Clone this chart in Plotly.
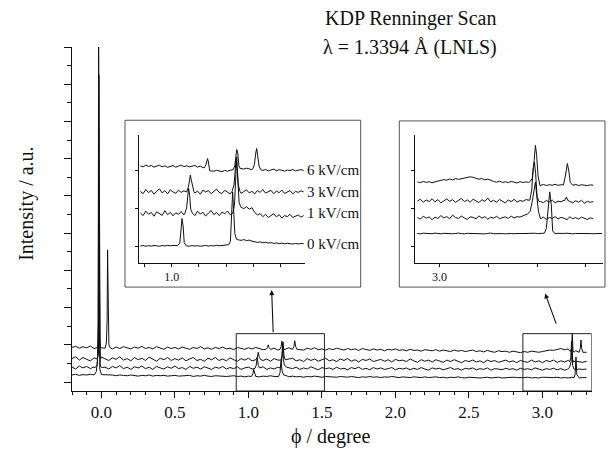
import plotly.graph_objects as go

FONT = "Liberation Serif"

# ---------------- main scan (phi in degree, intensity a.u.) ----------------
main_x0 = -0.2
main_dx = 0.025
main_6kv = [1.93, 1.96, 1.91, 1.95, 1.92, 1.97, 1.90, 1.94, 1.92, 1.95,
            1.91, 1.89, 1.94, 1.90, 1.95, 1.92, 1.89, 1.94, 1.91, 1.96,
            1.90, 1.93, 1.89, 1.95, 1.91, 1.88, 1.94, 1.90, 1.93, 1.89,
            1.94, 1.91, 1.88, 1.93, 1.90, 1.95, 1.89, 1.92, 1.88, 1.93,
            1.90, 1.94, 1.89, 1.91, 1.87, 1.93, 1.90, 1.88, 1.92, 1.89,
            1.93, 1.90, 1.87, 1.92, 1.89, 1.91, 1.86, 1.90, 1.88, 1.92,
            1.87, 1.90, 1.88, 1.86, 1.91, 1.88, 1.92, 1.87, 1.89, 1.86,
            1.90, 1.87, 1.91, 1.88, 1.86, 1.90, 1.87, 1.89, 1.85, 1.90,
            1.87, 1.85, 1.89, 1.86, 1.88, 1.84, 1.88, 1.86, 1.89, 1.85,
            1.87, 1.84, 1.88, 1.85, 1.86, 1.83, 1.87, 1.85, 1.84, 1.87,
            1.83, 1.86, 1.84, 1.82, 1.86, 1.83, 1.85, 1.82, 1.84, 1.86,
            1.82, 1.84, 1.81, 1.85, 1.82, 1.80, 1.84, 1.82, 1.83, 1.80,
            1.83, 1.81, 1.79, 1.82, 1.80, 1.83, 1.81, 1.80, 1.82, 1.84,
            1.86, 1.85, 1.88, 1.90, 1.87, 1.89, 1.86, 1.84, 1.83, 1.81,
            1.80]
main_3kv = [1.63, 1.68, 1.59, 1.66, 1.61, 1.57, 1.65, 1.60, 1.67, 1.62,
            1.58, 1.65, 1.61, 1.68, 1.59, 1.63, 1.57, 1.66, 1.60, 1.64,
            1.58, 1.67, 1.61, 1.56, 1.64, 1.60, 1.66, 1.58, 1.63, 1.59,
            1.65, 1.57, 1.62, 1.66, 1.58, 1.61, 1.56, 1.64, 1.60, 1.66,
            1.58, 1.62, 1.57, 1.65, 1.60, 1.56, 1.63, 1.59, 1.64, 1.57,
            1.61, 1.65, 1.58, 1.62, 1.56, 1.63, 1.59, 1.65, 1.57, 1.61,
            1.64, 1.57, 1.60, 1.55, 1.63, 1.58, 1.62, 1.56, 1.61, 1.64,
            1.57, 1.60, 1.55, 1.62, 1.58, 1.63, 1.56, 1.60, 1.54, 1.61,
            1.58, 1.62, 1.55, 1.59, 1.61, 1.56, 1.60, 1.54, 1.61, 1.57,
            1.59, 1.55, 1.62, 1.57, 1.53, 1.60, 1.56, 1.59, 1.54, 1.60,
            1.57, 1.53, 1.59, 1.55, 1.60, 1.56, 1.52, 1.58, 1.55, 1.59,
            1.54, 1.57, 1.52, 1.59, 1.55, 1.58, 1.53, 1.56, 1.59, 1.54,
            1.57, 1.52, 1.58, 1.55, 1.53, 1.59, 1.54, 1.57, 1.52, 1.58,
            1.55, 1.59, 1.53, 1.57, 1.54, 1.58, 1.52, 1.56, 1.55, 1.53,
            1.56]
main_1kv = [1.40, 1.35, 1.43, 1.38, 1.42, 1.36, 1.41, 1.44, 1.37, 1.40,
            1.35, 1.42, 1.38, 1.44, 1.36, 1.40, 1.34, 1.41, 1.38, 1.43,
            1.36, 1.40, 1.34, 1.42, 1.38, 1.35, 1.41, 1.37, 1.43, 1.36,
            1.39, 1.34, 1.42, 1.37, 1.40, 1.35, 1.41, 1.38, 1.34, 1.40,
            1.37, 1.42, 1.35, 1.39, 1.36, 1.41, 1.34, 1.38, 1.40, 1.35,
            1.39, 1.36, 1.41, 1.34, 1.38, 1.35, 1.40, 1.37, 1.33, 1.39,
            1.36, 1.40, 1.34, 1.38, 1.35, 1.41, 1.36, 1.33, 1.39, 1.36,
            1.38, 1.34, 1.40, 1.35, 1.37, 1.33, 1.39, 1.36, 1.40, 1.34,
            1.37, 1.33, 1.39, 1.35, 1.38, 1.34, 1.36, 1.39, 1.33, 1.37,
            1.35, 1.38, 1.33, 1.37, 1.34, 1.39, 1.35, 1.32, 1.38, 1.35,
            1.37, 1.33, 1.36, 1.39, 1.34, 1.36, 1.32, 1.37, 1.35, 1.38,
            1.33, 1.36, 1.34, 1.38, 1.32, 1.36, 1.35, 1.33, 1.37, 1.34,
            1.36, 1.32, 1.37, 1.34, 1.36, 1.33, 1.38, 1.34, 1.32, 1.36,
            1.34, 1.37, 1.33, 1.36, 1.32, 1.35, 1.37, 1.33, 1.35, 1.34,
            1.35]
main_0kv = [1.19, 1.21, 1.18, 1.20, 1.19, 1.21, 1.18, 1.20, 1.19, 1.20,
            1.18, 1.19, 1.17, 1.19, 1.18, 1.17, 1.19, 1.18, 1.16, 1.18,
            1.17, 1.19, 1.16, 1.18, 1.17, 1.18, 1.16, 1.17, 1.18, 1.16,
            1.17, 1.16, 1.18, 1.15, 1.17, 1.16, 1.18, 1.16, 1.15, 1.17,
            1.16, 1.17, 1.15, 1.16, 1.17, 1.15, 1.16, 1.14, 1.16, 1.15,
            1.16, 1.14, 1.16, 1.15, 1.17, 1.15, 1.14, 1.16, 1.15, 1.14,
            1.16, 1.14, 1.15, 1.13, 1.15, 1.14, 1.16, 1.14, 1.13, 1.15,
            1.14, 1.15, 1.13, 1.15, 1.14, 1.13, 1.15, 1.14, 1.12, 1.14,
            1.13, 1.15, 1.13, 1.14, 1.12, 1.14, 1.13, 1.15, 1.13, 1.12,
            1.14, 1.13, 1.12, 1.14, 1.13, 1.12, 1.14, 1.12, 1.13, 1.14,
            1.12, 1.13, 1.11, 1.13, 1.12, 1.14, 1.12, 1.11, 1.13, 1.12,
            1.13, 1.11, 1.12, 1.13, 1.11, 1.12, 1.13, 1.11, 1.12, 1.11,
            1.13, 1.12, 1.11, 1.12, 1.13, 1.11, 1.12, 1.11, 1.13, 1.12,
            1.11, 1.12, 1.13, 1.11, 1.12, 1.11, 1.13, 1.12, 1.11, 1.12,
            1.12]

main_peaks_0kv = [
    [(-0.05, 1.19), (-0.035, 1.28), (-0.027, 1.55), (-0.022, 2.6), (-0.019, 10.6), (-0.015, 2.2), (-0.011, 1.35), (0.0, 1.20)],
    [(1.02, 1.15), (1.03, 1.22), (1.036, 1.34), (1.042, 1.22), (1.05, 1.15)],
    [(1.205, 1.15), (1.215, 1.25), (1.222, 1.58), (1.229, 1.30), (1.24, 1.19), (1.26, 1.17)],
    [(3.215, 1.12), (3.222, 1.20), (3.228, 1.67), (3.234, 1.20), (3.245, 1.12)],
]
main_peaks_1kv = [
    [(-0.045, 1.38), (-0.03, 1.45), (-0.022, 1.8), (-0.017, 9.25), (-0.013, 1.9), (-0.008, 1.42), (0.005, 1.39)],
    [(1.045, 1.37), (1.053, 1.45), (1.06, 1.66), (1.067, 1.45), (1.075, 1.38)],
    [(1.215, 1.38), (1.225, 1.50), (1.232, 2.02), (1.238, 1.60), (1.245, 1.45), (1.26, 1.40)],
    [(3.17, 1.34), (3.185, 1.40), (3.195, 1.55), (3.20, 2.05), (3.205, 1.45), (3.215, 1.35)],
]
main_peaks_3kv = [
    [(-0.03, 1.62), (-0.02, 1.75), (-0.015, 5.8), (-0.011, 1.8), (-0.005, 1.63)],
    [(1.05, 1.60), (1.06, 1.66), (1.067, 1.80), (1.074, 1.66), (1.085, 1.60)],
    [(1.22, 1.59), (1.23, 1.70), (1.236, 2.07), (1.242, 1.70), (1.25, 1.60)],
    [(3.185, 1.55), (3.193, 1.65), (3.198, 2.10), (3.204, 1.62), (3.212, 1.54)],
]
main_peaks_6kv = [
    [(-0.025, 1.93), (-0.018, 2.2), (-0.015, 3.0), (-0.012, 2.1), (-0.006, 1.92)],
    [(0.025, 1.91), (0.034, 2.05), (0.039, 2.7), (0.042, 4.55), (0.046, 2.6), (0.051, 2.0), (0.06, 1.92)],
    [(1.12, 1.88), (1.13, 1.93), (1.135, 2.00), (1.14, 1.93), (1.15, 1.88)],
    [(1.215, 1.88), (1.222, 1.95), (1.228, 2.10), (1.234, 1.95), (1.242, 1.88)],
    [(1.30, 1.88), (1.31, 1.96), (1.315, 2.11), (1.321, 1.96), (1.33, 1.88)],
    [(3.19, 1.82), (3.198, 1.90), (3.203, 2.31), (3.208, 1.85), (3.215, 1.80)],
    [(3.25, 1.80), (3.257, 1.90), (3.262, 2.13), (3.267, 1.90), (3.275, 1.80)],
]

# ---------------- inset 1 (phi 0.88 - 1.49) ----------------
in1_x0 = 0.885
in1_dx = 0.01
in1_6kv = [7.60, 7.52, 7.66, 7.55, 7.62, 7.50, 7.58, 7.64, 7.53, 7.60, 7.48, 7.56, 7.62, 7.50, 7.58,
           7.66, 7.54, 7.60, 7.52, 7.57, 7.63, 7.50, 7.58, 7.46, 7.40, 7.30, 7.22, 7.18, 7.25, 7.20,
           7.15, 7.24, 7.18, 7.26, 7.30, 7.35, 7.32, 7.40, 7.34, 7.42, 7.36, 7.30, 7.38, 7.35, 7.30,
           7.24, 7.32, 7.20, 7.28, 7.34, 7.22, 7.30, 7.25, 7.18, 7.28, 7.22, 7.32, 7.20, 7.26, 7.30, 7.24]
in1_3kv = [5.60, 5.42, 5.75, 5.50, 5.68, 5.38, 5.62, 5.80, 5.48, 5.66, 5.40, 5.72, 5.55, 5.45, 5.70,
           5.52, 5.64, 5.40, 5.58, 5.75, 5.47, 5.62, 5.38, 5.70, 5.55, 5.66, 5.42, 5.60, 5.78, 5.50,
           5.44, 5.68, 5.52, 5.40, 5.62, 5.56, 5.70, 5.45, 5.58, 5.72, 5.48, 5.60, 5.40, 5.66, 5.52,
           5.74, 5.46, 5.58, 5.68, 5.42, 5.62, 5.50, 5.70, 5.44, 5.58, 5.66, 5.40, 5.60, 5.52, 5.64, 5.56]
in1_1kv = [3.90, 3.70, 4.05, 3.80, 3.95, 3.65, 4.00, 3.85, 3.72, 4.08, 3.78, 3.95, 3.68, 3.92, 3.80,
           4.02, 3.75, 4.00, 4.00, 3.85, 3.70, 4.05, 3.82, 3.96, 3.66, 3.90, 4.10, 3.78, 3.94, 3.70,
           3.98, 3.84, 4.06, 3.76, 3.92, 4.00, 4.40, 4.35, 4.25, 4.40, 4.20, 4.32, 3.95, 3.75, 3.85,
           3.62, 3.80, 3.55, 3.72, 3.85, 3.60, 3.78, 3.50, 3.70, 3.62, 3.80, 3.55, 3.68, 3.75, 3.58, 3.70]
in1_0kv = [1.32, 1.35, 1.30, 1.34, 1.31, 1.36, 1.33, 1.30, 1.35, 1.32, 1.37, 1.33, 1.36, 1.34, 1.38,
           1.35, 1.33, 1.33, 1.30, 1.35, 1.31, 1.34, 1.30, 1.33, 1.36, 1.31, 1.35, 1.32, 1.37, 1.33,
           1.36, 1.40, 1.42, 1.50, 1.60, 1.80, 1.80, 1.76, 1.82, 1.74, 1.78, 1.70, 1.66, 1.60, 1.64,
           1.57, 1.61, 1.55, 1.58, 1.52, 1.56, 1.50, 1.54, 1.49, 1.53, 1.50, 1.47, 1.52, 1.48, 1.51, 1.50]

in1_peaks_6kv = [
    [(1.12, 7.45), (1.126, 7.7), (1.130, 8.1), (1.132, 8.17), (1.135, 7.9), (1.140, 7.2), (1.146, 7.2)],
    [(1.226, 7.3), (1.232, 7.6), (1.236, 8.5), (1.239, 8.88), (1.243, 8.6), (1.247, 7.6), (1.253, 7.35)],
    [(1.298, 7.35), (1.304, 7.7), (1.309, 8.6), (1.3125, 8.96), (1.316, 8.4), (1.321, 7.6), (1.327, 7.3)],
]
in1_peaks_3kv = [
    [(1.055, 5.55), (1.062, 6.0), (1.066, 6.6), (1.0686, 6.87), (1.072, 6.5), (1.077, 5.9), (1.082, 5.55)],
    [(1.222, 5.6), (1.229, 6.1), (1.234, 7.4), (1.2365, 8.1), (1.240, 7.6), (1.245, 6.1), (1.251, 5.6)],
]
in1_peaks_1kv = [
    [(1.048, 3.85), (1.055, 4.3), (1.059, 5.2), (1.0625, 5.82), (1.066, 5.3), (1.070, 4.2), (1.076, 3.9)],
    [(1.225, 3.9), (1.231, 4.6), (1.236, 7.0), (1.239, 8.3), (1.243, 6.5), (1.248, 4.7), (1.255, 4.35)],
]
in1_peaks_0kv = [
    [(1.022, 1.35), (1.030, 1.55), (1.034, 2.9), (1.038, 3.47), (1.042, 2.9), (1.046, 1.6), (1.052, 1.36)],
    [(1.21, 1.42), (1.216, 1.7), (1.220, 3.6), (1.224, 5.56), (1.228, 4.0), (1.232, 2.3), (1.238, 1.85), (1.242, 1.80)],
]
in1_labels = ["6 kV/cm", "3 kV/cm", "1 kV/cm", "0 kV/cm"]
in1_label_y = [7.26, 5.56, 3.92, 1.51]

# ---------------- inset 2 (phi 2.95 - 3.335) ----------------
in2_x0 = 2.955
in2_dx = 0.006
in2_6kv = [6.34, 6.28, 6.38, 6.30, 6.36, 6.27, 6.35, 6.40, 6.45, 6.52, 6.48, 6.56, 6.50, 6.60, 6.54,
           6.58, 6.62, 6.68, 6.74, 6.70, 6.62, 6.55, 6.60, 6.50, 6.56, 6.45, 6.38, 6.32, 6.40, 6.30,
           6.36, 6.28, 6.38, 6.32, 6.26, 6.36, 6.30, 6.34, 6.30, 6.30, 6.30, 6.30, 6.10, 6.14, 6.06,
           6.12, 6.08, 6.15, 6.07, 6.12, 6.10, 6.10, 6.10, 6.08, 6.14, 6.06, 6.12, 6.09, 6.05, 6.11, 6.08]
in2_3kv = [4.85, 4.98, 4.75, 4.92, 4.80, 5.02, 4.78, 4.95, 4.70, 4.88, 5.00, 4.82, 4.95, 4.74, 4.90,
           5.05, 4.80, 4.93, 4.76, 4.98, 4.85, 4.72, 4.95, 4.82, 5.08, 4.78, 4.90, 4.75, 4.96, 4.84,
           4.70, 4.92, 4.80, 4.98, 4.76, 4.88, 4.82, 4.95, 4.90, 4.90, 4.90, 4.85, 4.80, 4.72, 4.88,
           4.76, 4.92, 4.70, 4.84, 4.78, 4.90, 4.90, 4.82, 4.70, 4.86, 4.75, 4.90, 4.68, 4.82, 4.74, 4.80]
in2_1kv = [3.55, 3.42, 3.65, 3.50, 3.60, 3.38, 3.58, 3.48, 3.70, 3.52, 3.62, 3.45, 3.74, 3.55, 3.48,
           3.66, 3.52, 3.40, 3.60, 3.56, 3.45, 3.68, 3.50, 3.62, 3.42, 3.58, 3.50, 3.64, 3.46, 3.56,
           3.60, 3.48, 3.66, 3.52, 3.62, 3.58, 3.70, 3.78, 3.90, 4.00, 4.00, 3.50, 3.45, 3.58, 3.40,
           3.55, 3.48, 3.62, 3.44, 3.56, 3.50, 3.38, 3.60, 3.46, 3.54, 3.42, 3.58, 3.48, 3.40, 3.52, 3.45]
in2_0kv = [2.30, 2.27, 2.32, 2.29, 2.31, 2.28, 2.33, 2.30, 2.27, 2.31, 2.29, 2.32, 2.28, 2.30, 2.33,
           2.29, 2.27, 2.31, 2.30, 2.28, 2.32, 2.29, 2.31, 2.27, 2.30, 2.33, 2.28, 2.30, 2.32, 2.29,
           2.27, 2.31, 2.30, 2.28, 2.32, 2.30, 2.29, 2.31, 2.28, 2.30, 2.32, 2.29, 2.31, 2.30, 2.30,
           2.30, 2.30, 2.29, 2.31, 2.28, 2.30, 2.32, 2.29, 2.27, 2.30, 2.31, 2.28, 2.30, 2.32, 2.29,
           2.28, 2.31, 2.30, 2.29]

in2_peaks_6kv = [
    [(3.185, 6.35), (3.19, 6.6), (3.194, 8.0), (3.1966, 9.2), (3.199, 8.5), (3.202, 6.8), (3.206, 6.05), (3.21, 6.12)],
    [(3.254, 6.1), (3.258, 6.8), (3.262, 7.78), (3.265, 7.2), (3.268, 6.3), (3.272, 6.1)],
]
in2_peaks_3kv = [
    [(3.185, 4.9), (3.189, 5.7), (3.192, 7.4), (3.1946, 7.9), (3.197, 7.0), (3.20, 5.2), (3.204, 4.8)],
    [(3.256, 4.85), (3.26, 5.15), (3.264, 4.85)],
]
in2_peaks_1kv = [
    [(3.18, 3.8), (3.186, 4.05), (3.191, 5.0), (3.1966, 6.34), (3.20, 5.0), (3.203, 4.0), (3.207, 3.45)],
]
in2_peaks_0kv = [
    [(3.215, 2.32), (3.219, 2.7), (3.223, 4.8), (3.2259, 5.56), (3.229, 4.6), (3.232, 2.5), (3.236, 2.3)],
]

# zoom boxes on the main scan and arrows (data units)
box1_x = [0.917, 1.517]
box2_x = [2.867, 3.335]
box_top = 2.30
arrow1 = dict(head=(1.158, 3.47), tail=(1.169, 2.30))
arrow2 = dict(head=(3.018, 3.38), tail=(3.097, 2.53))

Y_RANGE = [0.76, 10.0]
X_RANGE = [-0.2, 3.335]


def build(x0, dx, base, peaks):
    spans = [(min(p[0] for p in pk), max(p[0] for p in pk)) for pk in peaks]
    pts = []
    for i, v in enumerate(base):
        x = x0 + dx * i
        if any(a - 1e-9 <= x <= b + 1e-9 for a, b in spans):
            continue
        pts.append((x, v))
    for pk in peaks:
        pts.extend(pk)
    pts.sort()
    return [p[0] for p in pts], [p[1] for p in pts]


fig = go.Figure()
LINE = dict(color="#111111", width=1)

for base, pk in [(main_6kv, main_peaks_6kv), (main_3kv, main_peaks_3kv),
                 (main_1kv, main_peaks_1kv), (main_0kv, main_peaks_0kv)]:
    xs, ys = build(main_x0, main_dx, base, pk)
    fig.add_trace(go.Scatter(x=xs, y=ys, mode="lines", line=LINE, xaxis="x", yaxis="y",
                             hoverinfo="skip"))

for base, pk in [(in1_6kv, in1_peaks_6kv), (in1_3kv, in1_peaks_3kv),
                 (in1_1kv, in1_peaks_1kv), (in1_0kv, in1_peaks_0kv)]:
    xs, ys = build(in1_x0, in1_dx, base, pk)
    fig.add_trace(go.Scatter(x=xs, y=ys, mode="lines", line=LINE, xaxis="x2", yaxis="y2",
                             hoverinfo="skip"))

for base, pk in [(in2_6kv, in2_peaks_6kv), (in2_3kv, in2_peaks_3kv),
                 (in2_1kv, in2_peaks_1kv), (in2_0kv, in2_peaks_0kv)]:
    xs, ys = build(in2_x0, in2_dx, base, pk)
    fig.add_trace(go.Scatter(x=xs, y=ys, mode="lines", line=LINE, xaxis="x3", yaxis="y3",
                             hoverinfo="skip"))

# geometry (paper fractions)
W, H = 613, 450
ML, MR, MT, MB = 72, 5, 46.7, 59
PW = W - ML - MR
PH = H - MT - MB


def px_x(p):
    return (p - ML) / PW


def px_y(p):
    return (H - MB - p) / PH


main_dom_x = [0, px_x(591.7)]
in1_dom_x = [px_x(139.3), px_x(305)]
in2_dom_x = [px_x(415), px_x(603)]
in_dom_y = [px_y(262.7), px_y(135)]

axis_common = dict(showline=True, linecolor="#111111", linewidth=1, showgrid=False,
                   zeroline=False, ticks="outside", tickcolor="#111111")

fig.update_layout(
    width=W, height=H,
    margin=dict(l=ML, r=MR, t=MT, b=MB, pad=0),
    paper_bgcolor="white", plot_bgcolor="white",
    showlegend=False,
    font=dict(family=FONT, color="#111111"),
    xaxis=dict(domain=main_dom_x, range=X_RANGE, anchor="y", tickmode="linear", tick0=0,
               dtick=0.5, tickformat=".1f", ticklen=6, tickfont=dict(size=17, family=FONT),
               minor=dict(dtick=0.1, tick0=0, ticklen=3, ticks="outside", tickcolor="#111111"),
               **axis_common),
    yaxis=dict(domain=[0, 1], range=Y_RANGE, anchor="x", tickmode="linear", tick0=0, dtick=1,
               showticklabels=False, ticklen=7,
               minor=dict(dtick=0.5, tick0=0, ticklen=4, ticks="outside", tickcolor="#111111"),
               **axis_common),
    xaxis2=dict(domain=in1_dom_x, range=[0.881, 1.490], anchor="y2", tickmode="array",
                tickvals=[0.9, 1.0, 1.1, 1.2, 1.3, 1.4], ticktext=["", "1.0", "", "", "", ""],
                ticklen=3, tickfont=dict(size=12, family=FONT), **axis_common),
    yaxis2=dict(domain=in_dom_y, range=[0, 10], anchor="x2", tickmode="array",
                tickvals=[1.25, 4.26, 7.26], showticklabels=False, ticklen=3, **axis_common),
    xaxis3=dict(domain=in2_dom_x, range=[2.950, 3.335], anchor="y3", tickmode="array",
                tickvals=[3.0, 3.1, 3.2, 3.3], ticktext=["3.0", "", "", ""],
                ticklen=3, tickfont=dict(size=12, family=FONT), **axis_common),
    yaxis3=dict(domain=in_dom_y, range=[0, 10], anchor="x3", tickmode="array",
                tickvals=[1.25, 4.26, 7.26], showticklabels=False, ticklen=3, **axis_common),
)

shapes = []
for bx in (box1_x, box2_x):
    shapes.append(dict(type="rect", xref="x", yref="y", x0=bx[0], x1=bx[1], y0=Y_RANGE[0],
                       y1=box_top, line=dict(color="#222222", width=1)))
shapes.append(dict(type="rect", xref="paper", yref="paper", x0=px_x(125), x1=px_x(360.7),
                   y0=px_y(287), y1=px_y(120), line=dict(color="#555555", width=1)))
shapes.append(dict(type="rect", xref="paper", yref="paper", x0=px_x(399.3), x1=px_x(605),
                   y0=px_y(287), y1=px_y(120.7), line=dict(color="#555555", width=1)))
fig.update_layout(shapes=shapes)

ann = []
for a in (arrow1, arrow2):
    ann.append(dict(x=a["head"][0], y=a["head"][1], ax=a["tail"][0], ay=a["tail"][1],
                    xref="x", yref="y", axref="x", ayref="y", text="", showarrow=True,
                    arrowhead=2, arrowsize=0.9, arrowwidth=1.1, arrowcolor="#111111"))
for txt, yv in zip(in1_labels, in1_label_y):
    ann.append(dict(x=1.490, y=yv, xref="x2", yref="y2", text=txt, showarrow=False,
                    xanchor="left", yanchor="middle", font=dict(size=15, family=FONT)))
ann.append(dict(x=px_x(410), y=px_y(18), xref="paper", yref="paper", text="KDP Renninger Scan",
                showarrow=False, xanchor="center", yanchor="middle", font=dict(size=20, family=FONT)))
ann.append(dict(x=px_x(410), y=px_y(47), xref="paper", yref="paper", text="λ = 1.3394 Å (LNLS)",
                showarrow=False, xanchor="center", yanchor="middle", font=dict(size=20, family=FONT)))
ann.append(dict(x=px_x(330), y=px_y(437), xref="paper", yref="paper", text="ϕ / degree",
                showarrow=False, xanchor="center", yanchor="middle", font=dict(size=20, family=FONT)))
ann.append(dict(x=px_x(25.7), y=px_y(204), xref="paper", yref="paper", text="Intensity / a.u.",
                showarrow=False, xanchor="center", yanchor="middle", textangle=-90,
                font=dict(size=20, family=FONT)))
fig.update_layout(annotations=ann)

fig.write_html("out.html", config={"displayModeBar": False},
               post_script="document.body.style.margin='0px';document.body.style.padding='0px';")
